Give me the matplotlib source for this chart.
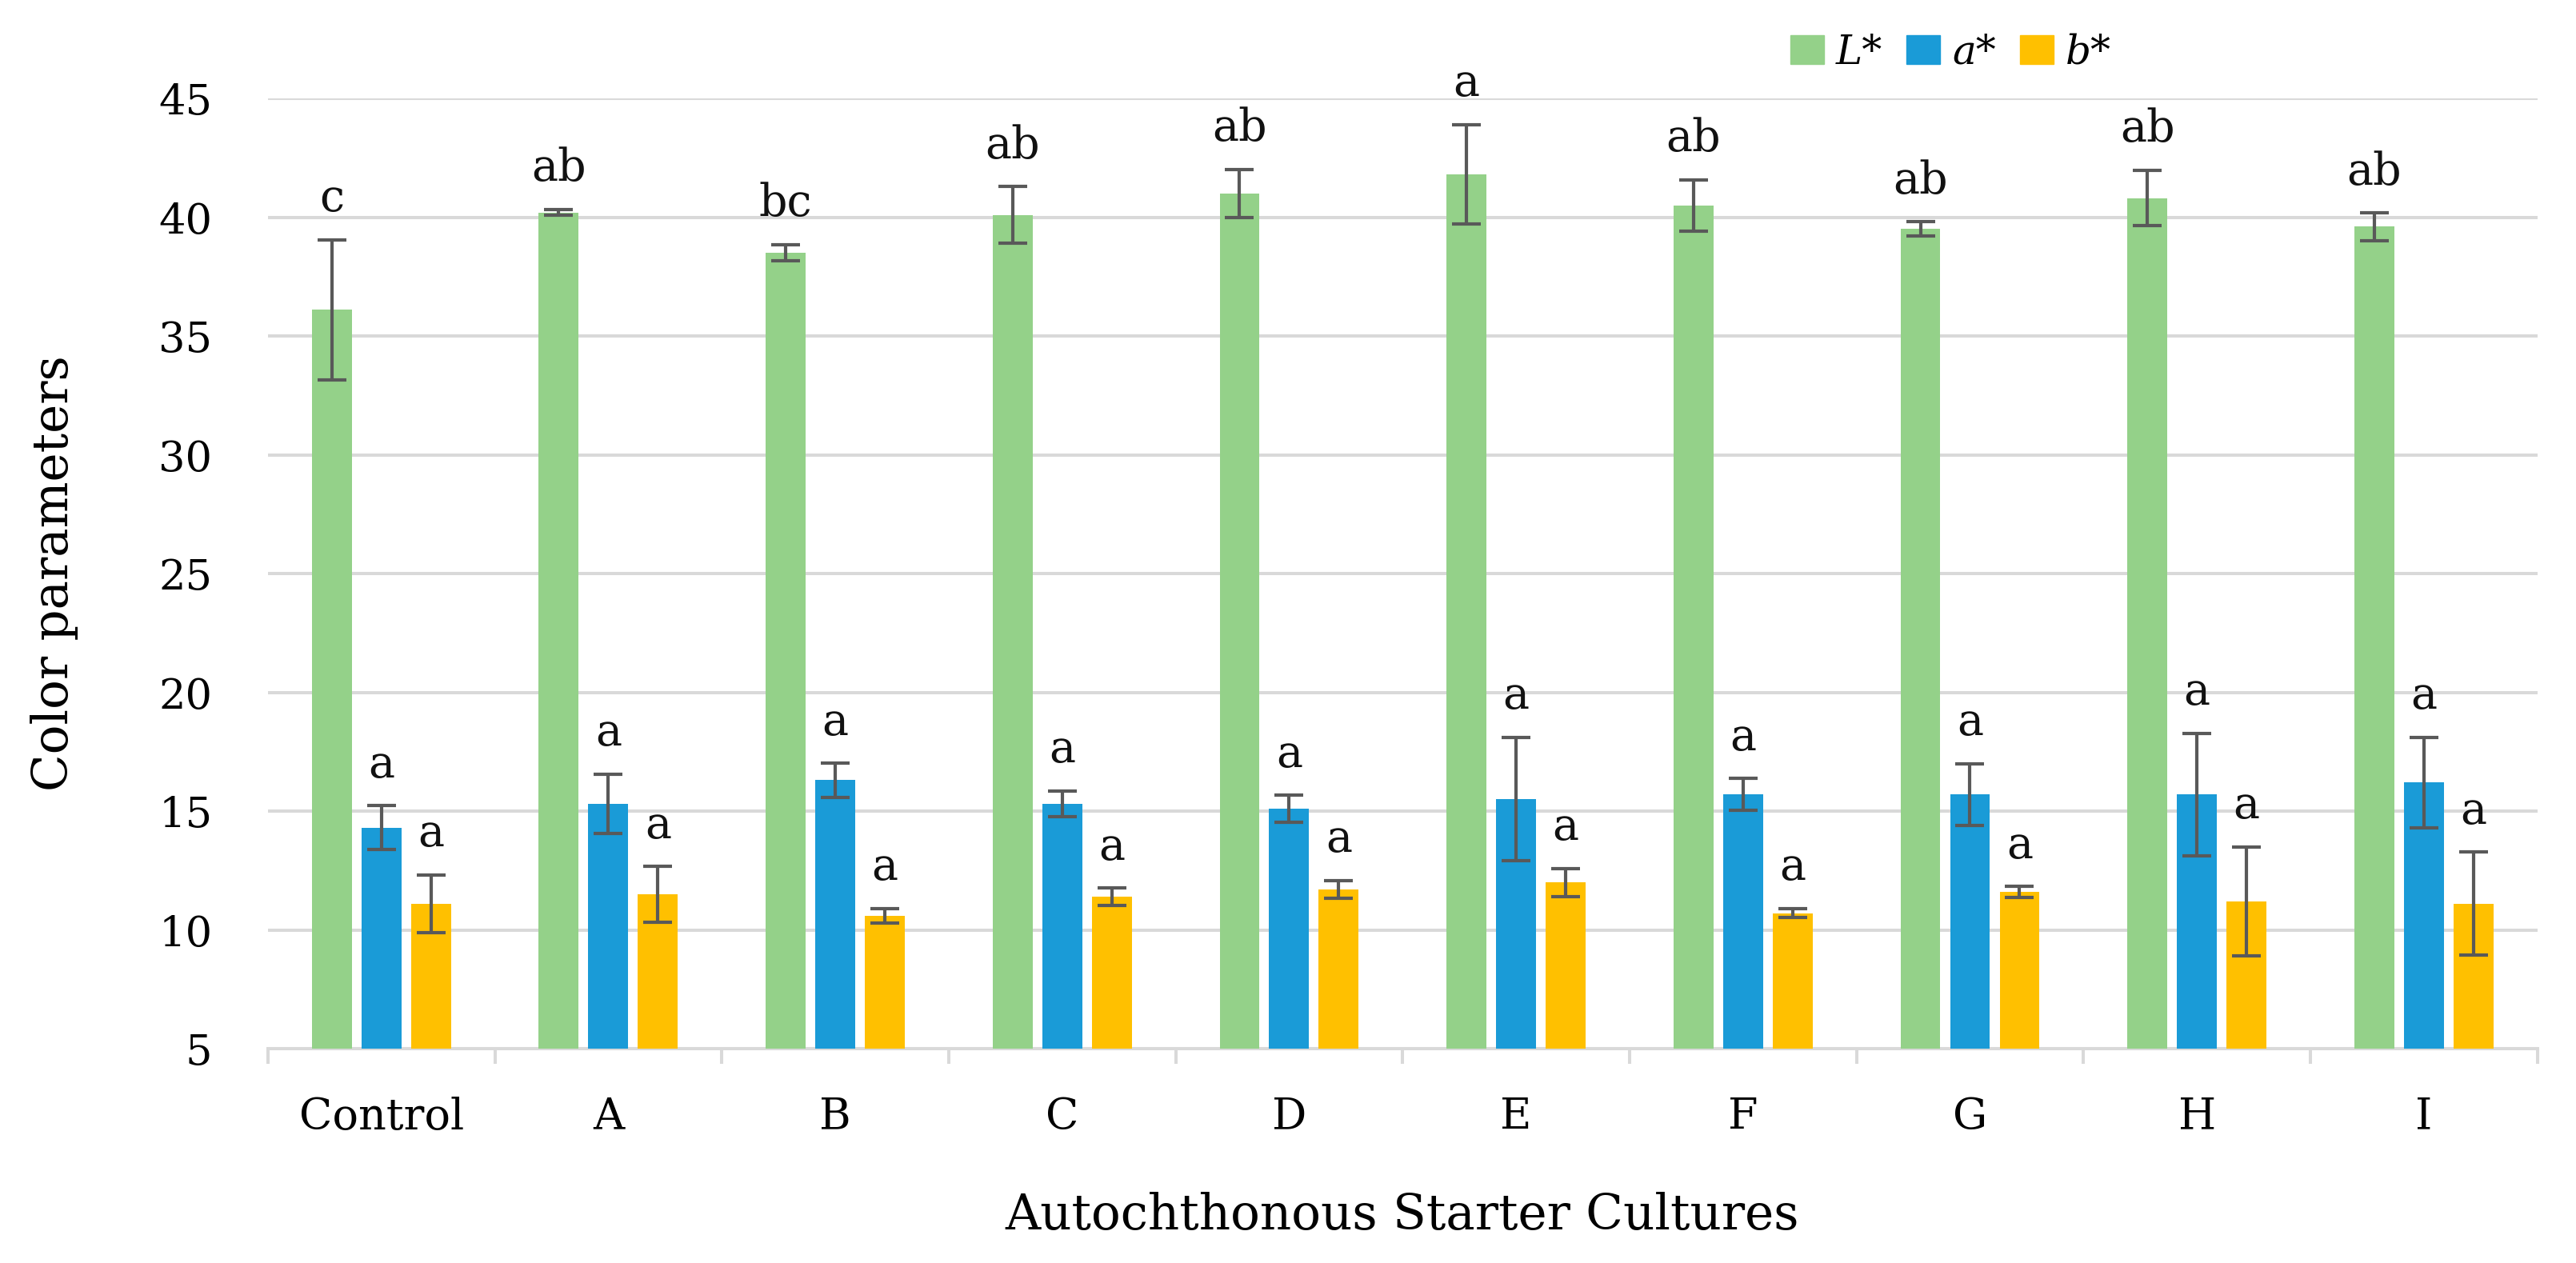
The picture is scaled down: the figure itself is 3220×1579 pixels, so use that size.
import numpy as np
import matplotlib
matplotlib.use("Agg")
from matplotlib import pyplot as plt
from matplotlib.patches import Patch

cultures = ["Control", "A", "B", "C", "D", "E", "F", "G", "H", "I"]

L_star = [36.1, 40.2, 38.5, 40.1, 41.0, 41.8, 40.5, 39.5, 40.8, 39.6]
L_err = [2.95, 0.13, 0.35, 1.18, 1.0, 2.1, 1.08, 0.3, 1.17, 0.58]
L_sig = ["c", "ab", "bc", "ab", "ab", "a", "ab", "ab", "ab", "ab"]

a_star = [14.3, 15.3, 16.3, 15.3, 15.1, 15.5, 15.7, 15.7, 15.7, 16.2]
a_err = [0.93, 1.25, 0.71, 0.54, 0.56, 2.6, 0.67, 1.3, 2.57, 1.9]
a_sig = ["a"] * 10

b_star = [11.1, 11.5, 10.6, 11.4, 11.7, 12.0, 10.7, 11.6, 11.2, 11.1]
b_err = [1.22, 1.17, 0.31, 0.36, 0.38, 0.59, 0.19, 0.22, 2.3, 2.17]
b_sig = ["a"] * 10

plt.rcParams["font.family"] = ["DejaVu Serif"]

fig = plt.figure(figsize=(32.2, 15.79), dpi=100)
ax = fig.add_axes([0.104, 0.1697, 0.881, 0.7524])

x = np.arange(len(cultures))
w = 0.176
step = 0.2185
err_kw = dict(ecolor="#595959", elinewidth=3.0, capsize=13, capthick=3.0)

series = [
    (L_star, L_err, L_sig, "#94D189", "L*"),
    (a_star, a_err, a_sig, "#1A9BD7", "a*"),
    (b_star, b_err, b_sig, "#FFC000", "b*"),
]

handles = []
for k, (vals, errs, sigs, col, name) in enumerate(series):
    xs = x + (k - 1) * step
    ax.bar(xs, np.array(vals) - 5, bottom=5, width=w, color=col, yerr=errs,
           error_kw=err_kw, zorder=3)
    for xi, v, e, s in zip(xs, vals, errs, sigs):
        ax.annotate(s, (xi, v + e), xytext=(0, 17), textcoords="offset points",
                    ha="center", va="bottom", fontsize=40, color="#111111")
    handles.append(Patch(color=col, label=name))

ax.set_ylim(5, 45)
ax.set_xlim(-0.5, len(cultures) - 0.5)
ax.set_yticks(np.arange(5, 46, 5))
ax.yaxis.grid(True, color="#D9D9D9", linewidth=2.9)
ax.set_axisbelow(True)
for s in ["top", "right", "left"]:
    ax.spines[s].set_visible(False)
ax.spines["bottom"].set_color("#D9D9D9")
ax.spines["bottom"].set_linewidth(2.9)

ax.set_xticks(x)
ax.set_xticklabels(cultures)
ax.set_xticks(np.arange(-0.5, len(cultures), 1), minor=True)
ax.tick_params(axis="x", which="major", length=0, pad=43, labelsize=39)
ax.tick_params(axis="x", which="minor", length=13.7, width=2.9, color="#D9D9D9")
ax.tick_params(axis="y", length=0, pad=50, labelsize=38)

fig.text(1753 / 3220, 1 - 1537 / 1579, "Autochthonous Starter Cultures",
         ha="center", va="baseline", fontsize=44)
fig.text(68 / 3220, 1 - 717 / 1579, "Color parameters", rotation=90,
         ha="center", va="center", fontsize=44)

leg = fig.legend(handles=handles, loc="center left",
                 bbox_to_anchor=(2238 / 3220, 1 - 66 / 1579), ncol=3,
                 frameon=False, borderpad=0, borderaxespad=0,
                 handlelength=0.84, handleheight=0.72, handletextpad=0.3,
                 columnspacing=0.6, prop={"size": 36, "style": "italic"})

plt.savefig("out.png", dpi=100)
